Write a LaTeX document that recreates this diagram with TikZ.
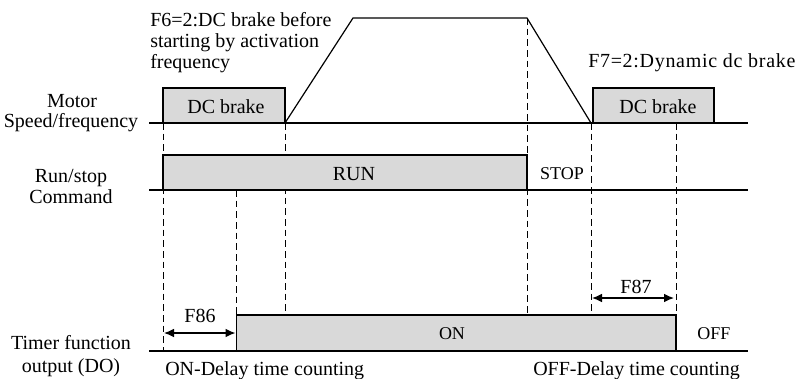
\documentclass[tikz,border=0pt]{standalone}
\usepackage{fontspec}
\setmainfont{Liberation Serif}
\newfontfamily\spacedserif[LetterSpace=3.5]{Liberation Serif}
\usetikzlibrary{arrows.meta}
\definecolor{boxgray}{RGB}{217,217,217}
\begin{document}
\begin{tikzpicture}[x=0.75pt,y=-0.75pt,
  lbl/.style={font=\fontsize{15}{16}\selectfont, inner sep=0pt, anchor=base},
  lblw/.style={lbl, anchor=base west},
  small/.style={font=\fontsize{13.5}{15}\selectfont, inner sep=0pt, anchor=base},
  axis/.style={line width=0.9pt},
  graybox/.style={draw, line width=0.9pt, fill=boxgray},
  guide/.style={line width=0.65pt, dash pattern=on 5pt off 3pt},
  span/.style={line width=0.9pt, {Latex[length=7.5pt,width=6.5pt]}-{Latex[length=7.5pt,width=6.5pt]}}]
\useasboundingbox (0,0) rectangle (801,379);

% time axes of the three signals
\coordinate (m0) at (149,123); \coordinate (m1) at (748,123);
\coordinate (r0) at (149,190); \coordinate (r1) at (748,190);
\coordinate (t0) at (149,351); \coordinate (t1) at (748,351);

% dashed time markers
\draw[guide] (163,123) -- (163,351);
\draw[guide] (236.5,190) -- (236.5,315);
\draw[guide] (285,123) -- (285,315);
\draw[guide] (527,18) -- (527,315);
\draw[guide] (591,123) -- (591,315);
\draw[guide] (676,123) -- (676,315);

% motor speed: DC brake, ramp up, run, ramp down, DC brake
\draw[graybox] (163,88) rectangle (285,123);
\draw[graybox] (593,88) rectangle (714,123);
\draw[axis] (285,123) -- (353,18) -- (527,18) -- (591,123);
\draw[axis] (m0) -- (m1);

% run/stop command
\draw[graybox] (163,155) rectangle (527,190);
\draw[axis] (r0) -- (r1);

% timer output
\draw[graybox] (236.5,315) rectangle (676,351);
\draw[axis] (t0) -- (t1);

% delay spans
\coordinate (a86l) at (164,333); \coordinate (a86r) at (235.5,333);
\coordinate (a87l) at (592,298); \coordinate (a87r) at (674,298);
\draw[span] (a86l) -- (a86r);
\draw[span] (a87l) -- (a87r);

% signal names
\node[lbl] (motA) at (72,107) {Motor};
\node[lbl] (motB) at (71,127) {Speed/frequency};
\node[lbl] (runA) at (71,182) {Run/stop};
\node[lbl] (runB) at (71,203) {Command};
\node[lbl] (timA) at (71,349) {Timer function};
\node[lbl] (timB) at (71,372) {output (DO)};

% annotations
\node[lblw] (f6a) at (150,26) {F6=2:DC brake before};
\node[lblw] (f6b) at (150,47) {starting by activation};
\node[lblw] (f6c) at (150,68) {frequency};
\node[lblw, font=\spacedserif\fontsize{15}{16}\selectfont] (f7) at (588,67) {F7=2:Dynamic dc brake};

\node[lbl] (dc1) at (226,113) {DC brake};
\node[lbl] (dc2) at (658,113) {DC brake};
\node[lbl] (run) at (354,180) {RUN};
\node[small] (stop) at (562,179) {STOP};
\node[small] (on) at (452,339) {ON};
\node[small] (off) at (714,339) {OFF};
\node[lbl] (f86) at (200,322) {F86};
\node[lbl] (f87) at (636,293) {F87};
\node[lblw] (ondly) at (165,375) {ON-Delay time counting};
\node[lblw] (offdly) at (533,375) {OFF-Delay time counting};
\end{tikzpicture}
\end{document}
